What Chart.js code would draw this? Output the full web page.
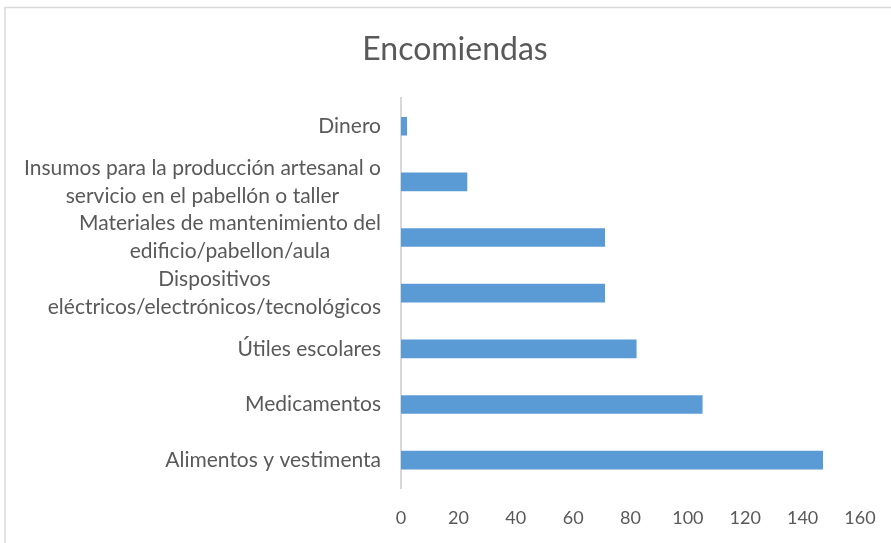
<!DOCTYPE html>
<html>
<head>
<meta charset="utf-8">
<script src="https://cdn.jsdelivr.net/npm/chart.js@4/dist/chart.umd.min.js"></script>
<style>
  html, body { margin: 0; padding: 0; background: #fff; }
  #wrap { position: relative; width: 891px; height: 543px; }
</style>
</head>
<body>
<div id="wrap"><canvas id="chart" width="891" height="543"></canvas></div>
<script>
// categories, top to bottom (multi-line ones as arrays)
var categories = [
  'Dinero',
  ['Insumos para la producción artesanal o', 'servicio en el pabellón o taller'],
  ['Materiales de mantenimiento del', 'edificio/pabellon/aula'],
  ['Dispositivos', 'eléctricos/electrónicos/tecnológicos'],
  'Útiles escolares',
  'Medicamentos',
  'Alimentos y vestimenta'
];
var values = [2, 23, 71, 71, 82, 105, 147];
var xTicks = [0, 20, 40, 60, 80, 100, 120, 140, 160];

var FONT = 'Lato';
var GREY = '#595959';

// draws the outer frame of the chart
var framePlugin = {
  id: 'frame',
  beforeDraw: function(chart) {
    var ctx = chart.ctx;
    ctx.save();
    ctx.strokeStyle = '#d9d9d9';
    ctx.lineWidth = 1.5;
    ctx.strokeRect(5, 7.5, 1000, 1000);
    ctx.restore();
  }
};

// category labels: block right aligned, lines centred inside the block
var yLabelPlugin = {
  id: 'yLabels',
  afterDraw: function(chart) {
    var scale = chart.scales.y;
    var ctx = chart.ctx;
    var lineGap = 28;
    ctx.save();
    ctx.font = '21px ' + FONT;
    ctx.fillStyle = GREY;
    ctx.textAlign = 'center';
    ctx.textBaseline = 'middle';
    var right = scale.right - 20;
    categories.forEach(function(lab, i) {
      var lines = Array.isArray(lab) ? lab : [lab];
      var w = Math.max.apply(null, lines.map(function(l) { return ctx.measureText(l).width; }));
      var cx = right - w / 2;
      var cy = scale.getPixelForValue(i);
      lines.forEach(function(l, j) {
        ctx.fillText(l, cx, cy + (j - (lines.length - 1) / 2) * lineGap);
      });
    });
    ctx.restore();
  }
};

new Chart(document.getElementById('chart'), {
  type: 'bar',
  data: {
    labels: categories,
    datasets: [{
      data: values,
      backgroundColor: '#5b9bd5',
      borderWidth: 0,
      barThickness: 18
    }]
  },
  options: {
    indexAxis: 'y',
    responsive: false,
    animation: false,
    // left padding only shifts the title centre, the y axis width makes up for it
    layout: { padding: { left: 50, right: 31, top: 0, bottom: 0 } },
    plugins: {
      legend: { display: false },
      tooltip: { enabled: false },
      title: {
        display: true,
        text: 'Encomiendas',
        color: GREY,
        font: { family: FONT, size: 32, weight: 'normal' },
        padding: { top: 30, bottom: 30 }
      }
    },
    scales: {
      x: {
        min: 0,
        max: 160,
        afterBuildTicks: function(scale) {
          scale.ticks = xTicks.map(function(v) { return { value: v }; });
        },
        afterFit: function(scale) { scale.height = 55; },
        grid: { display: false },
        border: { display: false },
        ticks: {
          color: GREY,
          font: { family: FONT, size: 18 },
          padding: 11,
          maxRotation: 0
        }
      },
      y: {
        afterFit: function(scale) { scale.width = 351; },
        grid: { display: false },
        border: { display: true, color: '#d9d9d9', width: 2 },
        ticks: { display: false }
      }
    }
  },
  plugins: [framePlugin, yLabelPlugin]
});
</script>
</body>
</html>
